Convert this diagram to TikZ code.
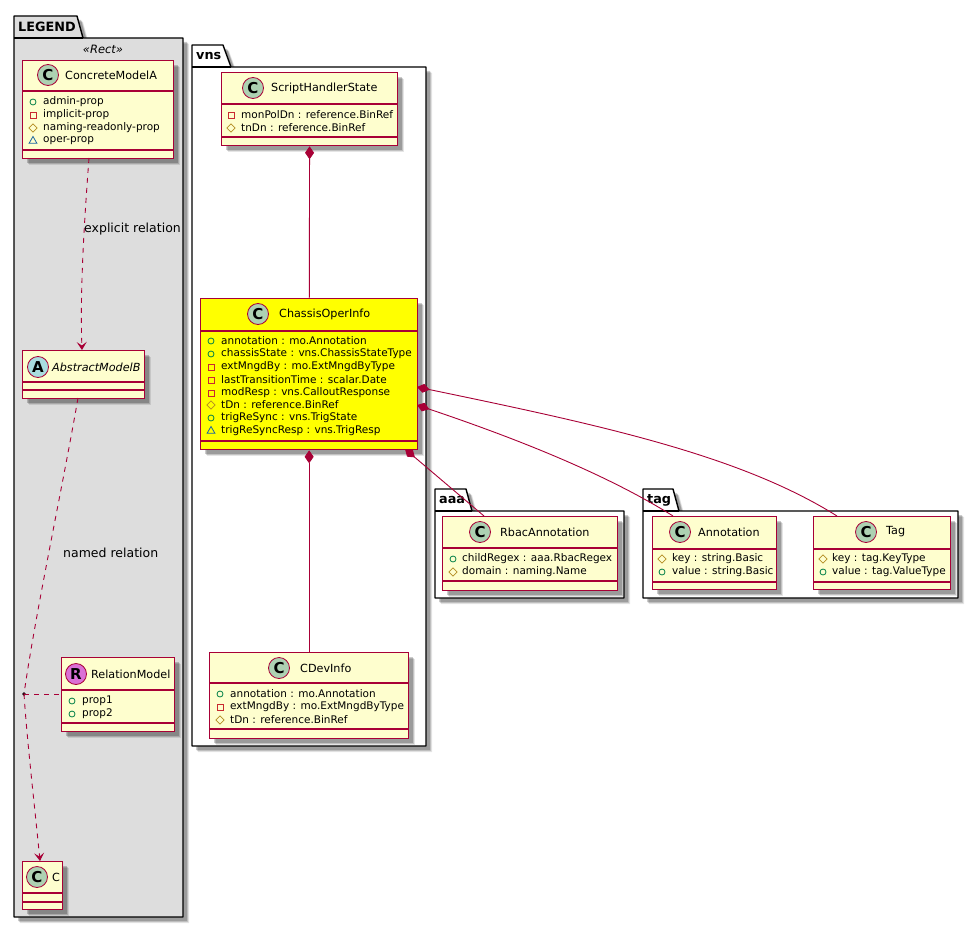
\documentclass[tikz,border=0pt]{standalone}
\usepackage{fontspec}
\setmainfont{DejaVu Sans}
\usetikzlibrary{arrows.meta,positioning,calc,shadows,shapes.geometric}
\definecolor{umlred}{HTML}{A80036}
\definecolor{umlfill}{HTML}{FEFECE}
\definecolor{spotgreen}{HTML}{ADD1B2}
\definecolor{spotblue}{HTML}{A9DCDF}
\definecolor{spotpink}{HTML}{DA70D6}
\definecolor{legendgray}{HTML}{DDDDDD}
\definecolor{hilite}{HTML}{FFFF00}
\definecolor{pubgreen}{HTML}{038048}
\definecolor{privred}{HTML}{C82930}
\definecolor{protgold}{HTML}{B38D22}
\definecolor{pkgblue}{HTML}{1963A0}

\begin{document}
\begin{tikzpicture}[
  x=1pt,y=-1pt,
  softshadow/.style={
    drop shadow={shadow xshift=6pt,shadow yshift=-6pt,fill=black,opacity=0.10},
    drop shadow={shadow xshift=5pt,shadow yshift=-5pt,fill=black,opacity=0.15},
    drop shadow={shadow xshift=4pt,shadow yshift=-4pt,fill=black,opacity=0.20}},
  package/.style={draw=black,line width=1.4pt,line join=round,softshadow},
  pkgname/.style={font=\bfseries\fontsize{12.8}{13}\selectfont,anchor=west,inner sep=0pt},
  classbox/.style={draw=umlred,line width=1.3pt,fill=umlfill,anchor=north west,inner sep=0pt,softshadow},
  divider/.style={draw=umlred,line width=1.3pt},
  spot/.style={circle,draw=umlred,line width=0.8pt,fill=spotgreen,minimum size=21pt,inner sep=0pt,
    font=\bfseries\fontsize{15}{15}\selectfont},
  title/.style={font=\fontsize{11.2}{12}\selectfont,anchor=west,inner sep=0pt},
  attr/.style={font=\fontsize{10.5}{11}\selectfont,anchor=west,inner sep=0pt},
  pub/.style={circle,draw=pubgreen,line width=0.8pt,minimum size=6pt,inner sep=0pt},
  priv/.style={rectangle,draw=privred,line width=0.8pt,minimum size=6pt,inner sep=0pt},
  prot/.style={diamond,draw=protgold,line width=0.8pt,minimum size=8.5pt,inner sep=0pt},
  pack/.style={regular polygon,regular polygon sides=3,draw=pkgblue,line width=0.8pt,minimum size=9pt,inner sep=0pt},
  relation/.style={draw=umlred,line width=0.9pt,dash pattern=on 5pt off 5pt},
  relname/.style={font=\fontsize{12.5}{13}\selectfont,anchor=west,inner sep=0pt},
  depends/.style={-{Stealth[inset=3.5pt,length=8pt,width=10pt,fill=umlred]}},
  comp/.style={draw=umlred,line width=0.9pt,{Diamond[length=13pt,width=9pt,fill=umlred]}-}
]
\useasboundingbox (0,0) rectangle (979,928);

% packages
\draw[package,fill=legendgray] (14,38)--(14,16)--(77,16)--(83,38)--(183,38)--(183,917)--(14,917)--cycle;
\draw[line width=1.4pt] (14,38)--(83,38);
\node[pkgname] (legend) at (18,27) {LEGEND};
\node[font=\itshape\fontsize{11.5}{12}\selectfont] (rect) at (103,49) {«Rect»};
\draw[package,fill=white] (192,67)--(192,45)--(223,45)--(231,67)--(426,67)--(426,746)--(192,746)--cycle;
\draw[line width=1.4pt] (192,67)--(231,67);
\node[pkgname] (vns) at (196,56) {vns};
\draw[package,fill=white] (435,511)--(435,489)--(466,489)--(472,511)--(624,511)--(624,598)--(435,598)--cycle;
\draw[line width=1.4pt] (435,511)--(472,511);
\node[pkgname] (aaa) at (439,500) {aaa};
\draw[package,fill=white] (643,511)--(643,489)--(673,489)--(679,511)--(958,511)--(958,598)--(643,598)--cycle;
\draw[line width=1.4pt] (643,511)--(679,511);
\node[pkgname] (tag) at (647,500) {tag};

% legend classes
\node[classbox,minimum width=151pt,minimum height=98pt] (concrete) at (22,60) {};
\draw[divider] (22,91)--(173,91) (22,150)--(173,150);
\node[spot] (concretespot) at (48,75) {C};
\node[title] (concretename) at (65,75) {ConcreteModelA};
\foreach \ic/\y/\txt [count=\n] in {pub/102/admin-prop,priv/115/implicit-prop,prot/128/naming-readonly-prop,pack/141/oper-prop}{
  \node[\ic] (concreteicon\n) at (33,\y) {};
  \node[attr] (concreteattr\n) at (43,\y) {\txt};
}

\node[classbox,minimum width=122pt,minimum height=48pt] (abstract) at (22,350) {};
\draw[divider] (22,382)--(144,382) (22,390)--(144,390);
\node[spot,fill=spotblue] (abstractspot) at (38,367) {A};
\node[title,font=\itshape\fontsize{11.2}{12}\selectfont] (abstractname) at (52,367) {AbstractModelB};

\node[classbox,minimum width=113pt,minimum height=74pt] (relmodel) at (61,657) {};
\draw[divider] (61,690)--(174,690) (61,723)--(174,723);
\node[spot,fill=spotpink] (relmodelspot) at (76,674) {R};
\node[title] (relmodelname) at (91,674) {RelationModel};
\foreach \ic/\y/\txt [count=\n] in {pub/701/prop1,pub/714/prop2}{
  \node[\ic] (relmodelicon\n) at (72,\y) {};
  \node[attr] (relmodelattr\n) at (82,\y) {\txt};
}

\node[classbox,minimum width=40pt,minimum height=48pt] (cclass) at (22,861) {};
\draw[divider] (22,893)--(62,893) (22,902)--(62,902);
\node[spot] (cclassspot) at (37,877) {C};
\node[title] (cclassname) at (52,877) {C};

% vns classes
\node[classbox,minimum width=176pt,minimum height=73pt] (script) at (221,72) {};
\draw[divider] (221,104)--(397,104) (221,137)--(397,137);
\node[spot] (scriptspot) at (253,88) {C};
\node[title] (scriptname) at (271,88) {ScriptHandlerState};
\foreach \ic/\y/\txt [count=\n] in {priv/115/monPolDn : reference.BinRef,prot/128/tnDn : reference.BinRef}{
  \node[\ic] (scripticon\n) at (231,\y) {};
  \node[attr] (scriptattr\n) at (241,\y) {\txt};
}

\node[classbox,fill=hilite,minimum width=217pt,minimum height=151pt] (chassis) at (200,298) {};
\draw[divider] (200,331)--(417,331) (200,441)--(417,441);
\node[spot] (chassisspot) at (258,314) {C};
\node[title] (chassisname) at (279,314) {ChassisOperInfo};
\foreach \ic/\y/\txt [count=\n] in {pub/341/annotation : mo.Annotation,pub/354/chassisState : vns.ChassisStateType,
  priv/367/extMngdBy : mo.ExtMngdByType,priv/380/lastTransitionTime : scalar.Date,priv/393/modResp : vns.CalloutResponse,
  prot/405/tDn : reference.BinRef,pub/418/trigReSync : vns.TrigState,pack/431/trigReSyncResp : vns.TrigResp}{
  \node[\ic] (chassisicon\n) at (211,\y) {};
  \node[attr] (chassisattr\n) at (221,\y) {\txt};
}

\node[classbox,minimum width=199pt,minimum height=86pt] (cdev) at (209,652) {};
\draw[divider] (209,683)--(408,683) (209,729)--(408,729);
\node[spot] (cdevspot) at (279,668) {C};
\node[title] (cdevname) at (300,668) {CDevInfo};
\foreach \ic/\y/\txt [count=\n] in {pub/694/annotation : mo.Annotation,priv/707/extMngdBy : mo.ExtMngdByType,prot/720/tDn : reference.BinRef}{
  \node[\ic] (cdevicon\n) at (220,\y) {};
  \node[attr] (cdevattr\n) at (230,\y) {\txt};
}

% aaa and tag classes
\node[classbox,minimum width=175pt,minimum height=74pt] (rbac) at (442,516) {};
\draw[divider] (442,548)--(617,548) (442,581)--(617,581);
\node[spot] (rbacspot) at (480,532) {C};
\node[title] (rbacname) at (500,532) {RbacAnnotation};
\foreach \ic/\y/\txt [count=\n] in {pub/559/childRegex : aaa.RbacRegex,prot/572/domain : naming.Name}{
  \node[\ic] (rbacicon\n) at (453,\y) {};
  \node[attr] (rbacattr\n) at (462,\y) {\txt};
}

\node[classbox,minimum width=124pt,minimum height=73pt] (annot) at (652,516) {};
\draw[divider] (652,549)--(776,549) (652,582)--(776,582);
\node[spot] (annotspot) at (680,532) {C};
\node[title] (annotname) at (698,532) {Annotation};
\foreach \ic/\y/\txt [count=\n] in {prot/559/key : string.Basic,pub/572/value : string.Basic}{
  \node[\ic] (annoticon\n) at (662,\y) {};
  \node[attr] (annotattr\n) at (672,\y) {\txt};
}

\node[classbox,minimum width=137pt,minimum height=73pt] (tagclass) at (813,516) {};
\draw[divider] (813,549)--(950,549) (813,582)--(950,582);
\node[spot] (tagclassspot) at (866,532) {C};
\node[title] (tagclassname) at (886,532) {Tag};
\foreach \ic/\y/\txt [count=\n] in {prot/559/key : tag.KeyType,pub/572/value : tag.ValueType}{
  \node[\ic] (tagclassicon\n) at (823,\y) {};
  \node[attr] (tagclassattr\n) at (832,\y) {\txt};
}

% connectors
\coordinate (concretefoot) at (89,158);
\coordinate (abstracttop) at (82,350);
\coordinate (abstractfoot) at (78,398);
\coordinate (cclasstop) at (40,861);
\coordinate (relpoint) at (24,694);
\fill (relpoint) circle (1.8pt);
\draw[relation,depends] (concretefoot) .. controls (84,225) and (80,290) .. (abstracttop);
\draw[relation] (abstractfoot) .. controls (62,490) and (36,610) .. (relpoint);
\draw[relation,depends] (relpoint) .. controls (27,740) and (34,800) .. (cclasstop);
\draw[relation] (relpoint)--(relmodel.west |- relpoint);
\node[relname] (explicit) at (84,229) {explicit relation};
\node[relname] (named) at (63,553) {named relation};

\draw[comp] (script)--(chassis);
\draw[comp] (chassis)--(cdev);
\coordinate (chassisup) at (417,387);
\coordinate (chassislow) at (417,405);
\coordinate (chassiscorner) at (405,449);
\coordinate (rbactop) at (484,516);
\coordinate (annottop) at (673,516);
\coordinate (tagtop) at (837,516);
\draw[comp] (chassisup) .. controls (600,425) and (740,455) .. (tagtop);
\draw[comp] (chassislow) .. controls (500,433) and (600,470) .. (annottop);
\draw[comp] (chassiscorner)--(rbactop);
\end{tikzpicture}
\end{document}
